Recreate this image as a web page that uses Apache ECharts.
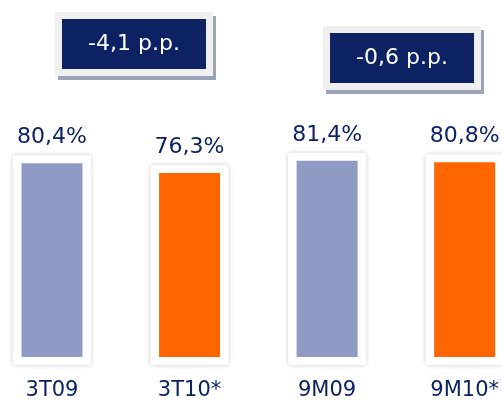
<!DOCTYPE html>
<html>
<head>
<meta charset="utf-8">
<style>
  html, body { margin: 0; padding: 0; background: #fff; overflow: hidden; }
  #chart { width: 502px; height: 401px; }
</style>
<script src="https://cdn.jsdelivr.net/npm/echarts@6/dist/echarts.min.js"></script>
</head>
<body>
<div id="chart"></div>
<script>
// periods and occupancy (%)
var categories = ['3T09', '3T10*', '9M09', '9M10*']
var values = [80.4, 76.3, 81.4, 80.8]
var barColors = ['#8f9bc4', '#ff6600', '#8f9bc4', '#ff6600']
var deltas = ['-4,1 p.p.', '-0,6 p.p.']

var navy = '#0c2262'
var font = 'DejaVu Sans'

function fmt(v) {
  return v.toFixed(1).replace('.', ',') + '%'
}

// white card + soft shadow behind every bar
function renderFrame(params, api) {
  var x = api.coord([api.value(0), 0])[0]
  var base = api.coord([api.value(0), 0])[1]
  var top = api.coord([api.value(0), api.value(1)])[1]
  var w = 78
  return {
    type: 'rect',
    shape: { x: x - w / 2, y: top - 8, width: w, height: base - top + 16, r: 3 },
    style: {
      fill: '#fff',
      shadowBlur: 5,
      shadowColor: 'rgba(0,0,0,0.2)'
    }
  }
}

// annotation box: shadow, light border, navy fill, white text
function deltaBox(x, y, text) {
  return {
    type: 'group',
    left: x,
    top: y,
    children: [
      { type: 'rect', shape: { x: 3, y: 4, width: 158, height: 64 }, style: { fill: '#9aa3b8' } },
      { type: 'rect', shape: { x: 0, y: 0, width: 158, height: 64 }, style: { fill: '#f0f0f0' } },
      { type: 'rect', shape: { x: 7, y: 7, width: 144, height: 50 }, style: { fill: navy } },
      {
        type: 'text',
        x: 79,
        y: 32,
        style: {
          text: text,
          fill: '#fff',
          font: '22px "' + font + '"',
          align: 'center',
          verticalAlign: 'middle'
        }
      }
    ]
  }
}

var chart = echarts.init(document.getElementById('chart'))
chart.setOption({
  animation: false,
  grid: { left: 52, right: 36, top: 116, height: 244 },
  xAxis: {
    type: 'category',
    data: categories,
    boundaryGap: false,
    axisLine: { show: false },
    axisTick: { show: false },
    axisLabel: { color: navy, fontFamily: font, fontSize: 21, margin: 23 }
  },
  yAxis: {
    type: 'value',
    min: 0,
    max: 100,
    show: false
  },
  graphic: [
    deltaBox(55, 12, deltas[0]),
    deltaBox(323, 26, deltas[1])
  ],
  series: [
    {
      type: 'custom',
      renderItem: renderFrame,
      data: values.map(function (v, i) { return [i, v] }),
      encode: { x: 0, y: 1 },
      clip: false,
      z: 1,
      silent: true
    },
    {
      type: 'bar',
      barWidth: 61,
      clip: false,
      z: 2,
      data: values.map(function (v, i) {
        return { value: v, itemStyle: { color: barColors[i] } }
      }),
      label: {
        show: true,
        position: 'top',
        distance: 15,
        color: navy,
        fontFamily: font,
        fontSize: 22,
        formatter: function (p) { return fmt(p.value) }
      }
    }
  ]
})
</script>
</body>
</html>
